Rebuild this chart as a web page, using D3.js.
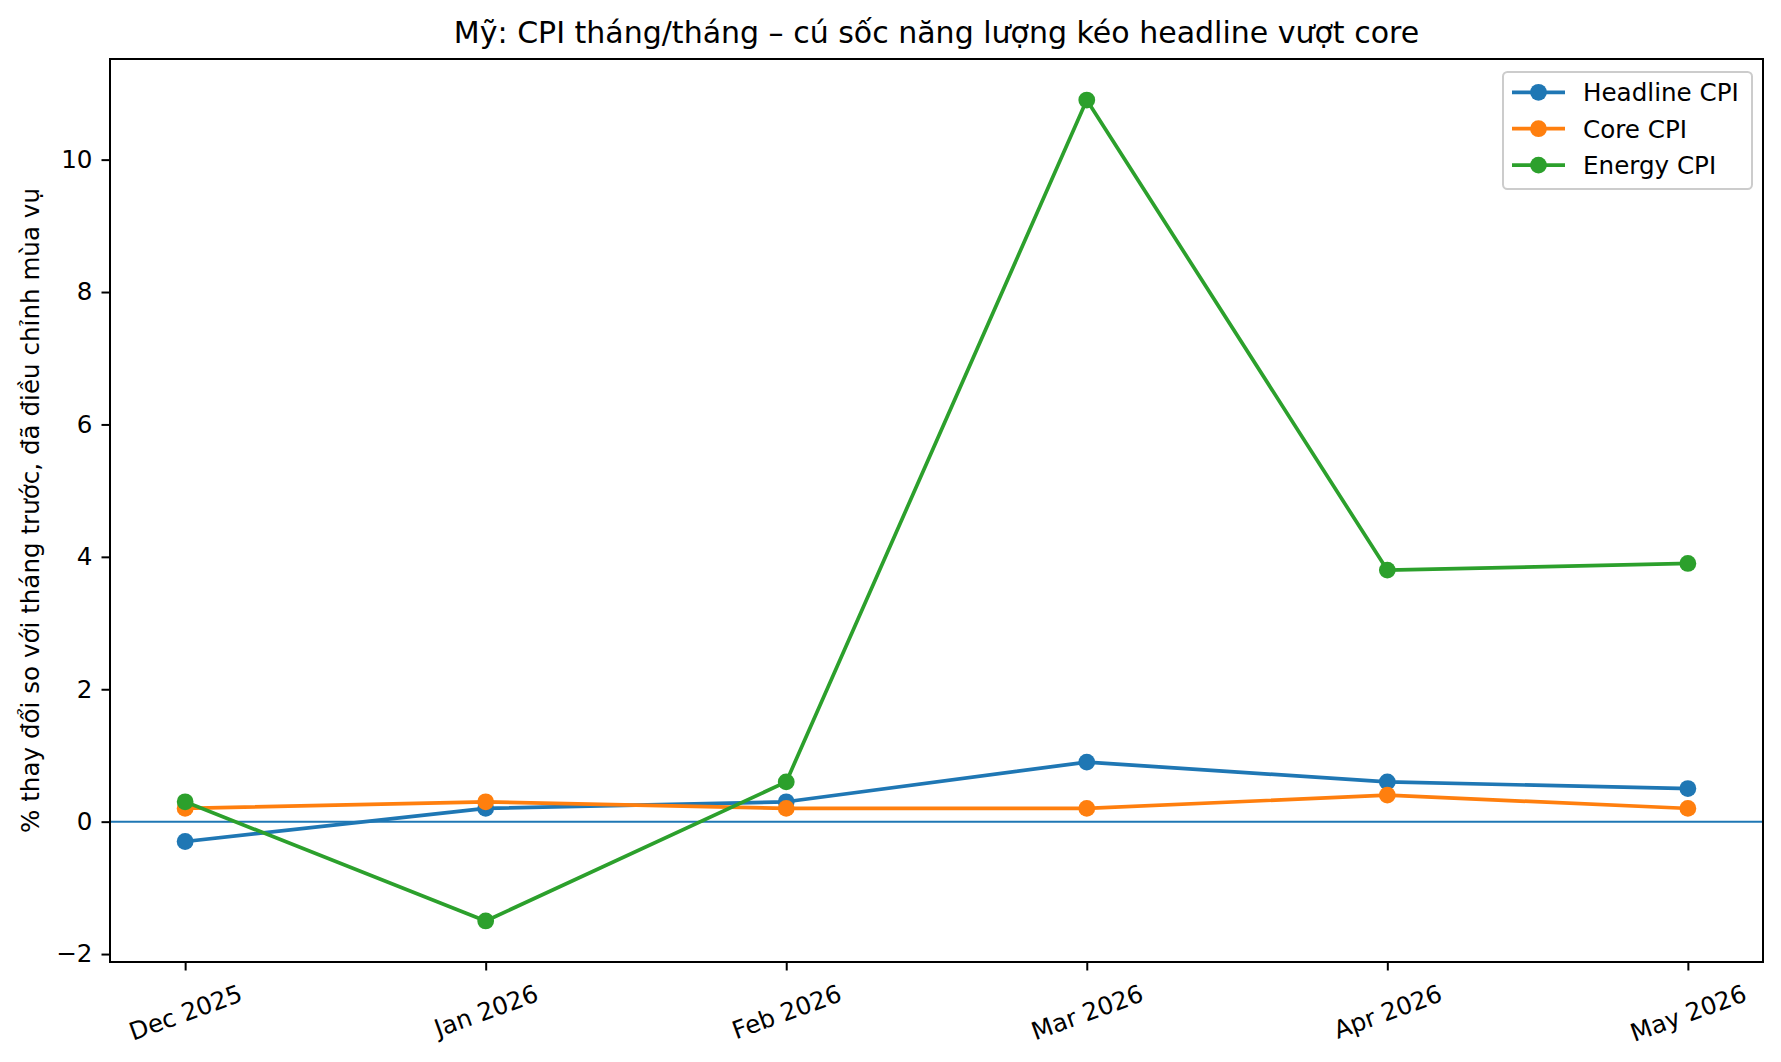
<!DOCTYPE html>
<html>
<head>
<meta charset="utf-8">
<script src="https://cdn.jsdelivr.net/npm/d3@7"></script>
<style>
  body { margin: 0; background: #fff; }
  svg text { font-family: "DejaVu Sans", sans-serif; fill: #000; }
</style>
</head>
<body>
<svg id="chart" width="1781" height="1062"></svg>
<script>
// data
var months = ["Dec 2025", "Jan 2026", "Feb 2026", "Mar 2026", "Apr 2026", "May 2026"];
var headline = [-0.3, 0.2, 0.3, 0.9, 0.6, 0.5];
var core = [0.2, 0.3, 0.2, 0.2, 0.4, 0.2];
var energy = [0.3, -1.5, 0.6, 10.9, 3.8, 3.9];
var seriesNames = ["Headline CPI", "Core CPI", "Energy CPI"];
var seriesColors = ["#1f77b4", "#ff7f0e", "#2ca02c"];
var yTicks = [-2, 0, 2, 4, 6, 8, 10];

var svg = d3.select("#chart");
// plot box (not "top": that name is taken by window.top)
var axL = 110, axR = 1763, axT = 59, axB = 962;
var tickFont = 24.6;

var x = d3.scalePoint().domain(months).range([axL, axR]).padding(0.25);

var all = headline.concat(core, energy);
var lo = d3.min(all), hi = d3.max(all), pad = (hi - lo) * 0.05;
var y = d3.scaleLinear().domain([lo - pad, hi + pad]).range([axB, axT]);

// zero line
svg.append("line")
    .attr("x1", axL).attr("x2", axR)
    .attr("y1", y(0)).attr("y2", y(0))
    .attr("stroke", "#1f77b4").attr("stroke-width", 2);

var series = [headline, core, energy];
var line = d3.line().x(function(d, i) { return x(months[i]); }).y(function(d) { return y(d); });

series.forEach(function(vals, k) {
  var g = svg.append("g");
  g.append("path")
      .datum(vals)
      .attr("d", line)
      .attr("fill", "none")
      .attr("stroke", seriesColors[k])
      .attr("stroke-width", 3.7)
      .attr("stroke-linejoin", "round")
      .attr("stroke-linecap", "square");
  g.selectAll("circle")
      .data(vals)
      .enter().append("circle")
      .attr("cx", function(d, i) { return x(months[i]); })
      .attr("cy", function(d) { return y(d); })
      .attr("r", 8.4)
      .attr("fill", seriesColors[k]);
});

// y axis
var yAxis = svg.append("g")
    .attr("transform", "translate(" + axL + ",0)")
    .call(d3.axisLeft(y).tickValues(yTicks).tickSize(8.5).tickPadding(9));
yAxis.select(".domain").remove();
yAxis.selectAll(".tick line").attr("stroke", "#000").attr("stroke-width", 2);
yAxis.selectAll(".tick text").attr("font-size", tickFont).attr("font-family", "DejaVu Sans");

// x axis
var xAxis = svg.append("g")
    .attr("transform", "translate(0," + axB + ")")
    .call(d3.axisBottom(x).tickSize(8.5).tickPadding(0));
xAxis.select(".domain").remove();
xAxis.selectAll(".tick line").attr("stroke", "#000").attr("stroke-width", 2);
var rad = 20 * Math.PI / 180;
xAxis.selectAll(".tick text")
    .attr("font-size", tickFont)
    .attr("font-family", "DejaVu Sans")
    .attr("dy", null)
    .attr("text-anchor", "middle")
    .attr("dominant-baseline", "central")
    .each(function() {
      var t = d3.select(this);
      var w = this.getComputedTextLength();
      var h = tickFont * 1.164;
      var cy = 17 + (w * Math.sin(rad) + h * Math.cos(rad)) / 2;
      t.attr("y", 0).attr("transform", "translate(0," + cy + ") rotate(-20)");
    });

// frame
svg.append("rect")
    .attr("x", axL).attr("y", axT)
    .attr("width", axR - axL).attr("height", axB - axT)
    .attr("fill", "none").attr("stroke", "#000").attr("stroke-width", 2);

// title
svg.append("text")
    .attr("x", (axL + axR) / 2).attr("y", 43)
    .attr("text-anchor", "middle")
    .attr("font-size", 30)
    .text("Mỹ: CPI tháng/tháng – cú sốc năng lượng kéo headline vượt core");

// y label
svg.append("text")
    .attr("transform", "translate(38.5," + ((axT + axB) / 2) + ") rotate(-90)")
    .attr("text-anchor", "middle")
    .attr("font-size", tickFont)
    .text("% thay đổi so với tháng trước, đã điều chỉnh mùa vụ");

// legend
var lg = svg.append("g");
lg.append("rect")
    .attr("x", 1503).attr("y", 72)
    .attr("width", 249).attr("height", 117)
    .attr("rx", 4.5)
    .attr("fill", "#fff").attr("fill-opacity", 0.8)
    .attr("stroke", "#cccccc").attr("stroke-width", 2);
seriesNames.forEach(function(name, k) {
  var cy = 92.3 + k * 36.4;
  lg.append("line")
      .attr("x1", 1512).attr("x2", 1565)
      .attr("y1", cy).attr("y2", cy)
      .attr("stroke", seriesColors[k]).attr("stroke-width", 3.7);
  lg.append("circle")
      .attr("cx", 1538.5).attr("cy", cy).attr("r", 8.4)
      .attr("fill", seriesColors[k]);
  lg.append("text")
      .attr("x", 1583).attr("y", cy)
      .attr("dy", "0.36em")
      .attr("font-size", tickFont)
      .text(name);
});
</script>
</body>
</html>
